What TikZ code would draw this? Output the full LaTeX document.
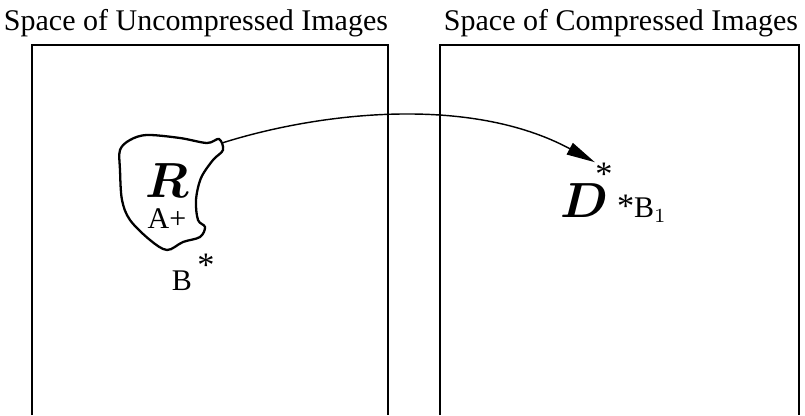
\documentclass[tikz,border=0pt]{standalone}
\usepackage{fontspec}
\setmainfont{Liberation Serif}
\usetikzlibrary{arrows.meta}

\begin{document}
\begin{tikzpicture}[x=0.35pt, y=-0.35pt,
	lbl/.style={inner sep=0pt, font=\fontsize{10.5}{12}\selectfont},
	star/.style={inner sep=0pt, font=\fontsize{12}{12}\selectfont},
	big/.style={inner sep=0pt, font=\fontsize{17}{20}\selectfont\boldmath},
	space/.style={line width=0.5pt}]

	\useasboundingbox (0,0) rectangle (805,415);

	% the two spaces
	\node[lbl, anchor=base] (uncomp) at (196,30) {Space of Uncompressed Images};
	\node[lbl, anchor=base] (comp) at (621,30) {Space of Compressed Images};
	\draw[space] (32,415) |- (388,45) -- (388,415);
	\draw[space] (440,415) |- (799,45) -- (799,415);

	% region R
	\draw[line width=0.8pt] plot[smooth cycle, tension=0.55] coordinates {
		(120,150) (130,140) (147,135) (180,138) (207,143) (219,139)
		(223,150) (213,160) (201,178) (196,200) (198,220) (205,227)
		(200,237) (183,242) (167,250) (150,240) (130,220) (122,200) (120,170)};
	\coordinate (tip) at (222,143);

	\node[big] (R) at (167,181) {$R$};
	\node[lbl] (A) at (167,219) {A+};
	\node[lbl] (B) at (182,281) {B};
	\node[star] (Bs) at (206,265) {*};

	% image D
	\node[big] (D) at (584,201) {$D$};
	\node[star] (Ds) at (604,174) {*};
	\node[lbl] (B1) at (642,209) {{\fontsize{12}{12}\selectfont*}B$_1$};

	\draw[line width=0.5pt, -{Triangle[length=10pt, width=4.5pt]}]
	(tip) .. controls (320,112) and (470,95) .. (Ds.north west);
\end{tikzpicture}
\end{document}
